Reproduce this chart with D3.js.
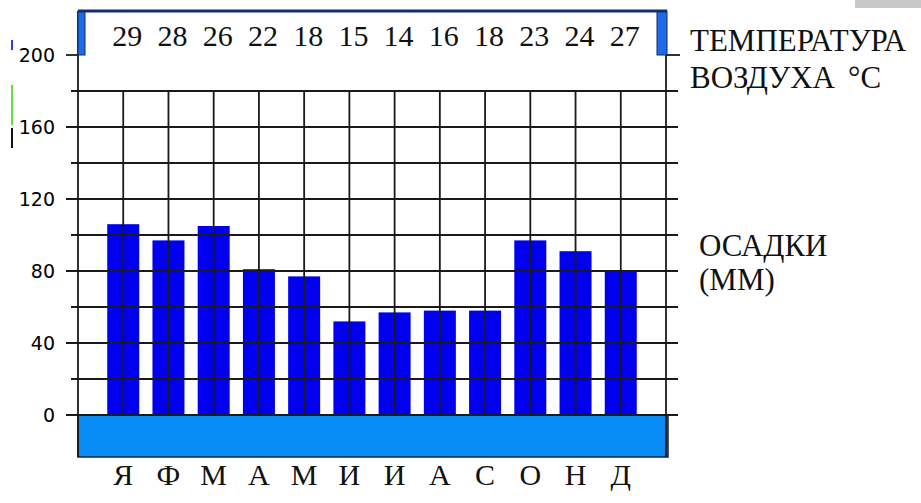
<!DOCTYPE html>
<html>
<head>
<meta charset="utf-8">
<script src="https://cdn.jsdelivr.net/npm/d3@7"></script>
<style>
html,body{margin:0;padding:0;background:#fff;}
svg{display:block;}
.serif{font-family:"Liberation Serif","Times New Roman","DejaVu Serif",serif;}
.ylab{font-family:"DejaVu Sans","Liberation Sans",sans-serif;}
</style>
</head>
<body>
<svg id="chart" width="921" height="503"></svg>
<script>
const months = ["Я","Ф","М","А","М","И","И","А","С","О","Н","Д"];
const precipitation = [106, 97, 105, 81, 77, 52, 57, 58, 58, 97, 91, 80];
const temperature = [29, 28, 26, 22, 18, 15, 14, 16, 18, 23, 24, 27];
const yTickLabels = [0, 40, 80, 120, 160, 200];
const gridValues = [0, 20, 40, 60, 80, 100, 120, 140, 160, 180];

(function () {
const svg = d3.select("#chart");
const pL = 78, pR = 666, pT = 55, pB = 415;

const x = d3.scalePoint().domain(d3.range(months.length)).range([pL, pR]).padding(1);
const y = d3.scaleLinear().domain([0, 200]).range([pB, pT]);
const barW = 32;

// artifacts
svg.append("rect").attr("x", 855).attr("y", 0).attr("width", 66).attr("height", 8).attr("fill", "#c8c8c8");
svg.append("rect").attr("x", 11).attr("y", 40).attr("width", 2).attr("height", 10).attr("fill", "#2a40d8");
svg.append("rect").attr("x", 11).attr("y", 85).attr("width", 2).attr("height", 40).attr("fill", "#66dd44");
svg.append("rect").attr("x", 11).attr("y", 128).attr("width", 2).attr("height", 20).attr("fill", "#111");

// bottom band
svg.append("rect").attr("x", pL).attr("y", y(0)).attr("width", pR - pL + 2).attr("height", 42)
  .attr("fill", "#0a8cf7").attr("stroke", "#1a2040").attr("stroke-width", 1.5);

// bars
svg.append("g").selectAll("rect").data(precipitation).join("rect")
  .attr("x", (d, i) => x(i) - barW / 2)
  .attr("y", d => y(d))
  .attr("width", barW)
  .attr("height", d => y(0) - y(d))
  .attr("fill", "#0000ee");

// horizontal grid
const grid = svg.append("g").attr("stroke", "#1a1a1a").attr("stroke-width", 1.8);
grid.selectAll("line.h").data(gridValues).join("line").attr("class", "h")
  .attr("x1", d => d % 40 === 0 ? 66 : 71)
  .attr("x2", 678)
  .attr("y1", d => y(d)).attr("y2", d => y(d));
// vertical grid
grid.selectAll("line.v").data(d3.range(months.length)).join("line").attr("class", "v")
  .attr("x1", i => x(i)).attr("x2", i => x(i))
  .attr("y1", y(180)).attr("y2", y(0));
// frame verticals
grid.append("line").attr("x1", pL).attr("x2", pL).attr("y1", 11).attr("y2", y(0) + 42);
grid.append("line").attr("x1", pR).attr("x2", pR).attr("y1", y(200)).attr("y2", y(0) + 42);
// 200 ticks
grid.append("line").attr("x1", 66).attr("x2", pL).attr("y1", y(200)).attr("y2", y(200));
grid.append("line").attr("x1", pR).attr("x2", 680).attr("y1", y(200)).attr("y2", y(200));

// top temperature box
const boxTop = 11;
svg.append("rect").attr("x", pL).attr("y", boxTop).attr("width", 7).attr("height", y(200) - boxTop)
  .attr("fill", "#1f6ae6").attr("stroke", "#0b2a70").attr("stroke-width", 1);
svg.append("rect").attr("x", pR - 9).attr("y", boxTop).attr("width", 10).attr("height", y(200) - boxTop)
  .attr("fill", "#1f6ae6").attr("stroke", "#0b2a70").attr("stroke-width", 1);
svg.append("line").attr("x1", pL).attr("x2", pR + 1).attr("y1", boxTop).attr("y2", boxTop)
  .attr("stroke", "#123070").attr("stroke-width", 3);

// y axis labels
const yAxis = d3.axisLeft(y).tickValues(yTickLabels).tickSize(0).tickPadding(0).tickFormat(d3.format("d"));
const ax = svg.append("g").attr("transform", "translate(55,0)").call(yAxis);
ax.attr("font-size", 19).attr("font-family", "DejaVu Sans");
ax.select(".domain").remove();
ax.selectAll("text").attr("class", "ylab").style("font-size", "19px").attr("fill", "#000");

// temperatures
svg.append("g").attr("class", "serif").style("font-size", "30px").selectAll("text").data(temperature).join("text")
  .attr("x", (d, i) => x(i) + 4)
  .attr("y", 46)
  .attr("text-anchor", "middle")
  .attr("fill", "#111")
  .text(d => d);

// months
svg.append("g").attr("class", "serif").style("font-size", "30px").selectAll("text").data(months).join("text")
  .attr("x", (d, i) => x(i))
  .attr("y", 485)
  .attr("text-anchor", "middle")
  .attr("fill", "#111")
  .text(d => d);

// right labels
const rl = svg.append("g").attr("class", "serif").style("font-size", "31px").attr("fill", "#111");
rl.append("text").attr("x", 690).attr("y", 51).text("ТЕМПЕРАТУРА");
rl.append("text").attr("x", 690).attr("y", 88).text("ВОЗДУХА");
rl.append("text").attr("x", 848).attr("y", 88).text("°С");
rl.append("text").attr("x", 699).attr("y", 256).text("ОСАДКИ");
rl.append("text").attr("x", 699).attr("y", 290).text("(ММ)");
})();
</script>
</body>
</html>
